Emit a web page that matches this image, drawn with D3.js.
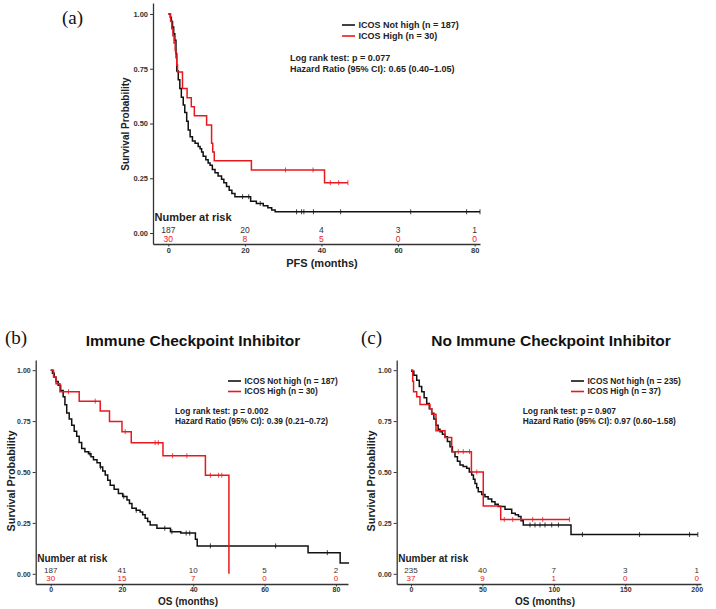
<!DOCTYPE html>
<html>
<head>
<meta charset="utf-8">
<script src="https://cdn.jsdelivr.net/npm/d3@7"></script>
<style>
  body { margin: 0; background: #fff; }
  svg { display: block; }
  text { font-family: "Liberation Sans", Arial, sans-serif; }
</style>
</head>
<body>
<svg id="fig" width="716" height="609"></svg>
<script>
// ---- data: [time (months), survival] step points ----
const pfsNotHigh = [[0,1.0],[0.5,0.985],[0.8,0.965],[1.1,0.94],[1.4,0.91],[1.7,0.88],[2.0,0.82],[2.2,0.74],[2.6,0.70],[3.0,0.66],[3.4,0.62],[3.9,0.585],[4.3,0.55],[4.8,0.51],[5.2,0.47],[5.7,0.44],[6.3,0.42],[7.0,0.41],[7.8,0.395],[8.3,0.385],[8.7,0.37],[9.1,0.35],[9.8,0.335],[10.4,0.32],[10.9,0.31],[11.5,0.29],[12.2,0.275],[13.0,0.26],[13.9,0.245],[14.5,0.23],[15.2,0.212],[15.9,0.195],[16.6,0.18],[17.4,0.166],[21.5,0.145],[23.0,0.135],[24.8,0.125],[26.0,0.115],[27.0,0.105],[27.9,0.097],[81.4,0.097]];
const pfsHigh = [[0,1.0],[0.6,0.967],[0.9,0.933],[1.2,0.9],[1.5,0.867],[1.8,0.833],[2.0,0.8],[2.2,0.767],[2.4,0.735],[3.7,0.66],[4.9,0.618],[6.0,0.577],[6.8,0.535],[10.0,0.493],[11.3,0.41],[11.6,0.37],[12.0,0.33],[21.7,0.288],[40.8,0.23],[46.9,0.23]];
const pfsNotHighCensor = [19.4, 21.0, 24.0, 33.5, 34.8, 35.4, 37.9, 45.0, 63.3, 77.9, 81.4];
const pfsHighCensor = [30.6, 37.8, 42.3, 44.5, 46.9];

const iciNotHigh = [[0,1.0],[0.5,0.985],[1.0,0.965],[1.5,0.945],[2.1,0.926],[2.8,0.9],[3.5,0.87],[4.0,0.83],[4.5,0.79],[5.2,0.76],[5.9,0.73],[6.6,0.70],[7.3,0.675],[8.0,0.645],[8.7,0.615],[9.6,0.60],[10.6,0.59],[11.3,0.575],[12.0,0.56],[13.0,0.545],[13.9,0.525],[14.6,0.505],[15.3,0.485],[16.0,0.46],[16.7,0.435],[17.8,0.415],[19.0,0.395],[20.2,0.38],[21.4,0.363],[22.1,0.345],[22.8,0.322],[24.0,0.312],[25.1,0.303],[25.8,0.29],[26.5,0.273],[27.2,0.257],[27.9,0.24],[29.8,0.224],[33.6,0.207],[36.5,0.2],[40.6,0.17],[41.1,0.137],[72.2,0.104],[81.2,0.053],[83.7,0.053]];
const iciHigh = [[0,1.0],[0.8,0.967],[1.5,0.933],[2.6,0.894],[8.0,0.848],[13.9,0.8],[16.5,0.748],[20.0,0.698],[22.6,0.644],[31.5,0.58],[43.4,0.484],[50.0,0.0]];
const iciNotHighCensor = [11.0, 14.0, 20.5, 24.0, 32.0, 34.0, 38.0, 39.0, 44.8, 63.1, 77.6];
const iciHighCensor = [5.0, 12.5, 20.9, 29.3, 30.2, 34.2, 38.2, 44.8, 47.1, 48.0];

const noIciNotHigh = [[0,1.0],[0.5,0.995],[2,0.975],[4,0.95],[5.8,0.92],[7.5,0.894],[9.2,0.865],[11,0.837],[12.8,0.81],[14.5,0.788],[16,0.76],[17.5,0.73],[19,0.71],[20.3,0.698],[22,0.685],[23.8,0.673],[25.5,0.65],[27.3,0.624],[29,0.6],[30.8,0.575],[32.5,0.553],[34.3,0.534],[36.5,0.527],[39,0.518],[40.8,0.5],[42.5,0.485],[43.7,0.465],[44.8,0.444],[46,0.423],[47.1,0.403],[49.5,0.39],[51.8,0.379],[54,0.367],[56.5,0.354],[58.8,0.342],[61.1,0.33],[65.8,0.317],[70.5,0.298],[73,0.29],[75.2,0.281],[77,0.26],[78.6,0.24],[112,0.193],[200.8,0.193]];
const noIciHigh = [[0,1.0],[1.2,0.946],[1.8,0.894],[4.0,0.869],[6.3,0.832],[13.3,0.811],[14.5,0.784],[17.5,0.703],[23.8,0.67],[28.5,0.6],[42.3,0.5],[50.6,0.333],[62.8,0.267],[110.9,0.267]];
const noIciNotHighCensor = [83.3, 86.8, 90.3, 93.8, 98.5, 103.2, 120, 160, 195, 200.8];
const noIciHighCensor = [33.1, 36.6, 41, 46, 65.3, 71.2, 85.2, 92.2, 110.9];

const yTicks = [0, 0.25, 0.5, 0.75, 1];
const ticks80 = [0, 20, 40, 60, 80];
const ticks200 = [0, 50, 100, 150, 200];

const riskA = [[187, 20, 4, 3, 1], [30, 8, 5, 0, 0]];
const riskB = [[187, 41, 10, 5, 2], [30, 15, 7, 0, 0]];
const riskC = [[235, 40, 7, 3, 1], [37, 9, 1, 0, 0]];

const legendAB = ["ICOS Not high (n = 187)", "ICOS High (n = 30)"];
const legendC = ["ICOS Not high (n = 235)", "ICOS High (n = 37)"];

const BLACK = "#111111";
const RED = "#e8191e";
const AXIS = "#333333";

const svg = d3.select("#fig");

function survAt(curve, t) {
  let s = curve[0][1];
  curve.forEach(function(d) { if (d[0] <= t) s = d[1]; });
  return s;
}

function drawPanel(p) {
  const g = svg.append("g");
  const x = d3.scaleLinear().domain(p.xDomain).range([p.left, p.right]);
  const y = d3.scaleLinear().domain([-0.05, 1.05]).range([p.bottom, p.top]);

  // axes
  const xAxis = g.append("g")
      .attr("transform", `translate(0,${p.bottom})`)
      .call(d3.axisBottom(x).tickValues(p.xTicks).tickSize(2.5).tickSizeOuter(0).tickPadding(1));
  const yAxis = g.append("g")
      .attr("transform", `translate(${p.left},0)`)
      .call(d3.axisLeft(y).tickValues(yTicks).tickFormat(d3.format(".2f")).tickSize(3).tickSizeOuter(0).tickPadding(2));
  [xAxis, yAxis].forEach(function(a) {
    a.select(".domain").attr("stroke", AXIS).attr("stroke-width", 1.3);
    a.selectAll(".tick line").attr("stroke", AXIS).attr("stroke-width", 1);
    a.selectAll(".tick text").attr("fill", AXIS).style("font-size", p.fs.tick + "px").style("font-weight", "bold")
      .style("font-family", '"Liberation Sans", Arial, sans-serif');
  });

  // curves
  const line = d3.line()
      .x(function(d) { return x(d[0]); })
      .y(function(d) { return y(d[1]); })
      .curve(d3.curveStepAfter);

  p.series.forEach(function(s) {
    g.append("path")
      .datum(s.curve)
      .attr("fill", "none")
      .attr("stroke", s.color)
      .attr("stroke-width", 1.5)
      .attr("d", line);

    g.selectAll(null)
      .data(s.censor)
      .enter()
      .append("line")
      .attr("x1", function(d) { return x(d); })
      .attr("x2", function(d) { return x(d); })
      .attr("y1", function(d) { return y(survAt(s.curve, d)) - 2.5; })
      .attr("y2", function(d) { return y(survAt(s.curve, d)) + 2.5; })
      .attr("stroke", s.color)
      .attr("stroke-width", 0.8);
  });

  // number at risk
  g.append("text")
    .attr("x", p.left + 1.5)
    .attr("y", p.riskTitleY)
    .style("font-size", p.fs.riskTitle + "px")
    .style("font-weight", "bold")
    .attr("fill", "#222")
    .text("Number at risk");

  p.risk.forEach(function(row, i) {
    g.selectAll(null)
      .data(row)
      .enter()
      .append("text")
      .attr("x", function(d, j) { return x(p.xTicks[j]); })
      .attr("y", p.riskY[i])
      .attr("text-anchor", "middle")
      .style("font-size", p.fs.risk + "px")
      .attr("fill", i === 0 ? "#333" : RED)
      .text(function(d) { return d; });
  });

  // legend
  p.series.forEach(function(s, i) {
    const ly = p.legendY + i * p.legendGap;
    g.append("line")
      .attr("x1", p.legendX).attr("x2", p.legendX + 13)
      .attr("y1", ly).attr("y2", ly)
      .attr("stroke", s.color).attr("stroke-width", 1.6);
    g.append("text")
      .attr("x", p.legendX + 16.5)
      .attr("y", ly + p.fs.legend * 0.35)
      .style("font-size", p.fs.legend + "px")
      .style("font-weight", "bold")
      .attr("fill", "#222")
      .text(s.label);
  });

  // statistics
  p.stats.forEach(function(t, i) {
    g.append("text")
      .attr("x", p.statsX)
      .attr("y", p.statsY + i * p.legendGap + p.fs.legend * 0.35)
      .style("font-size", p.fs.legend + "px")
      .style("font-weight", "bold")
      .attr("fill", "#222")
      .text(t);
  });

  // axis titles
  g.append("text")
    .attr("transform", `translate(${p.yTitleX},${p.yTitleMid}) rotate(-90)`)
    .attr("text-anchor", "middle")
    .style("font-size", p.fs.yTitle + "px")
    .style("font-weight", "bold")
    .attr("fill", "#222")
    .text("Survival Probability");
  g.append("text")
    .attr("x", p.xTitleX)
    .attr("y", p.xTitleY)
    .attr("text-anchor", "middle")
    .style("font-size", p.fs.xTitle + "px")
    .style("font-weight", "bold")
    .attr("fill", "#222")
    .text(p.xTitle);

  // panel letter and title
  svg.append("text")
    .attr("x", p.tagX).attr("y", p.tagY)
    .style("font-family", '"Liberation Serif", "Times New Roman", serif')
    .style("font-size", "19px")
    .attr("fill", "#111")
    .text(p.tag);
  if (p.title) {
    svg.append("text")
      .attr("x", p.titleX).attr("y", p.titleY)
      .attr("text-anchor", "middle")
      .style("font-size", "15.5px")
      .style("font-weight", "bold")
      .attr("fill", "#111")
      .text(p.title);
  }
}

drawPanel({
  tag: "(a)", tagX: 62, tagY: 24,
  left: 153, right: 480, top: 3, bottom: 244, xDomain: [-4, 81.4], xTicks: ticks80,
  fs: {tick: 7.5, legend: 9, risk: 8.5, riskTitle: 11, xTitle: 11, yTitle: 10},
  series: [
    {curve: pfsNotHigh, censor: pfsNotHighCensor, color: BLACK, label: legendAB[0]},
    {curve: pfsHigh, censor: pfsHighCensor, color: RED, label: legendAB[1]}
  ],
  risk: riskA, riskY: [233, 241.5], riskTitleY: 221,
  legendX: 342, legendY: 25, legendGap: 11,
  stats: ["Log rank test: p = 0.077", "Hazard Ratio (95% CI): 0.65 (0.40\u20131.05)"],
  statsX: 290, statsY: 58,
  yTitleX: 129, yTitleMid: 124, xTitleX: 322, xTitleY: 266.5, xTitle: "PFS (months)"
});

drawPanel({
  tag: "(b)", tagX: 5, tagY: 344, title: "Immune Checkpoint Inhibitor", titleX: 193, titleY: 346,
  left: 35.7, right: 348, top: 360, bottom: 584, xDomain: [-4.2, 83.4], xTicks: ticks80,
  fs: {tick: 7, legend: 8.4, risk: 8, riskTitle: 10, xTitle: 10, yTitle: 10.8},
  series: [
    {curve: iciNotHigh, censor: iciNotHighCensor, color: BLACK, label: legendAB[0]},
    {curve: iciHigh, censor: iciHighCensor, color: RED, label: legendAB[1]}
  ],
  risk: riskB, riskY: [573, 581], riskTitleY: 562,
  legendX: 228, legendY: 381, legendGap: 10.5,
  stats: ["Log rank test: p = 0.002", "Hazard Ratio (95% CI): 0.39 (0.21\u20130.72)"],
  statsX: 175, statsY: 411,
  yTitleX: 15, yTitleMid: 481, xTitleX: 188, xTitleY: 604.5, xTitle: "OS (months)"
});

drawPanel({
  tag: "(c)", tagX: 361, tagY: 344, title: "No Immune Checkpoint Inhibitor", titleX: 551, titleY: 346,
  left: 396.7, right: 701, top: 360, bottom: 584, xDomain: [-10, 203], xTicks: ticks200,
  fs: {tick: 7, legend: 8.4, risk: 8, riskTitle: 10, xTitle: 10, yTitle: 10.8},
  series: [
    {curve: noIciNotHigh, censor: noIciNotHighCensor, color: BLACK, label: legendC[0]},
    {curve: noIciHigh, censor: noIciHighCensor, color: RED, label: legendC[1]}
  ],
  risk: riskC, riskY: [573, 581], riskTitleY: 562,
  legendX: 571, legendY: 381, legendGap: 10.5,
  stats: ["Log rank test: p = 0.907", "Hazard Ratio (95% CI): 0.97 (0.60\u20131.58)"],
  statsX: 522.7, statsY: 411,
  yTitleX: 375, yTitleMid: 481, xTitleX: 545, xTitleY: 604.5, xTitle: "OS (months)"
});
</script>
</body>
</html>
